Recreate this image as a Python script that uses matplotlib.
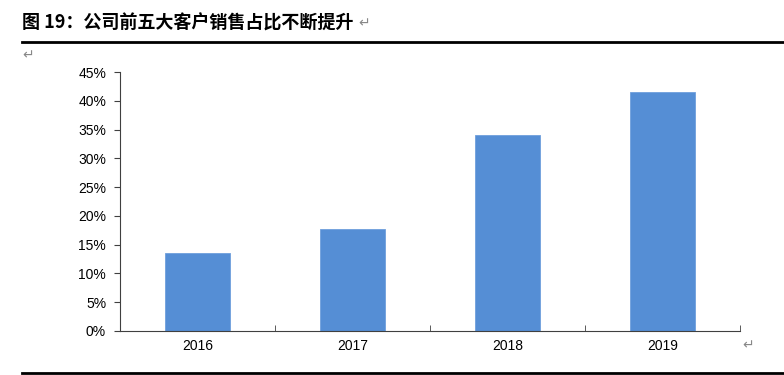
import matplotlib.pyplot as plt
from matplotlib.ticker import MultipleLocator, FuncFormatter

plt.rcParams['font.family'] = ['Noto Sans CJK SC', 'DejaVu Sans']

# data
years = ['2016', '2017', '2018', '2019']
top5_share = [13.6, 17.7, 34.0, 41.5]

fig = plt.figure(figsize=(7.84, 3.75), dpi=100)
ax = fig.add_axes([120 / 784, 1 - 331 / 375, 620 / 784, 259 / 375])

x = list(range(len(years)))
ax.bar(x, top5_share, width=0.42, color='#558ED5', edgecolor='#6F9FDC', linewidth=0.6)

ax.set_xlim(-0.5, len(years) - 0.5)
ax.set_ylim(0, 45)
ax.yaxis.set_major_locator(MultipleLocator(5))
ax.yaxis.set_major_formatter(FuncFormatter(lambda v, p: '%d%%' % v))
ax.set_xticks(x)
ax.set_xticklabels(years)
ax.set_xticks([i + 0.5 for i in range(-1, len(years))], minor=True)

for s in ['top', 'right']:
    ax.spines[s].set_visible(False)
for s in ['left', 'bottom']:
    ax.spines[s].set_color('#404040')
    ax.spines[s].set_linewidth(0.8)

ax.tick_params(axis='y', direction='out', length=4, color='#404040', labelsize=10, pad=6)
ax.tick_params(axis='x', which='major', length=0, labelsize=10, pad=6)
ax.tick_params(axis='x', which='minor', direction='in', length=4, color='#404040')
for lbl in ax.get_xticklabels() + ax.get_yticklabels():
    lbl.set_fontfamily(['Liberation Sans', 'DejaVu Sans'])

# title and report decorations
fig.text(22 / 784, 1 - 23 / 375, '图 19：公司前五大客户销售占比不断提升', fontsize=13,
         fontweight='bold', va='center', ha='left')
fig.text(358 / 784, 1 - 23 / 375, '↵', fontsize=10, color='#888888', va='center',
         family='DejaVu Sans')
fig.text(22 / 784, 1 - 55 / 375, '↵', fontsize=10, color='#888888', va='center',
         family='DejaVu Sans')
fig.text(742 / 784, 1 - 345 / 375, '↵', fontsize=10, color='#888888', va='center',
         family='DejaVu Sans')
fig.add_artist(plt.Line2D([22 / 784, 1], [1 - 42 / 375] * 2, color='black', linewidth=2))
fig.add_artist(plt.Line2D([22 / 784, 1], [1 - 373 / 375] * 2, color='black', linewidth=2))

fig.savefig('out.png', dpi=100)
